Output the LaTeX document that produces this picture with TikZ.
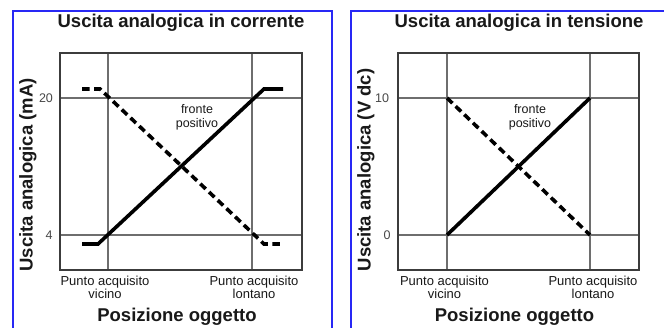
\documentclass[tikz,border=0pt]{standalone}
\usepackage{fontspec}
\setmainfont{Liberation Sans}
\definecolor{panelblue}{RGB}{40,40,245}
\definecolor{gridgray}{RGB}{110,110,110}
\definecolor{ink}{RGB}{25,25,25}
\begin{document}
\begin{tikzpicture}[x=1pt,y=-1pt,
  panel/.style={draw=panelblue,line width=2pt},
  frame/.style={draw=ink!85,line width=2pt},
  gridl/.style={draw=gridgray,line width=1.2pt},
  curve/.style={draw=black,line width=3.6pt,line join=miter},
  dcurve/.style={curve,dash pattern=on 7.5pt off 4.5pt},
  title/.style={font=\fontsize{18.5}{20}\selectfont\bfseries,text=ink,inner sep=0pt},
  ylab/.style={font=\fontsize{18.5}{20}\selectfont\bfseries,text=ink,inner sep=0pt,rotate=90},
  tick/.style={font=\fontsize{12.5}{13}\selectfont,text=ink!80,inner sep=0pt},
  small/.style={font=\fontsize{13}{10.5}\selectfont,text=ink,inner sep=0pt,align=center},
  note/.style={font=\fontsize{12.5}{14}\selectfont,text=ink,inner sep=0pt,align=center}]
\useasboundingbox (0,0) rectangle (664,328);
\fill[white] (0,0) rectangle (664,328);
% panels
\draw[panel] (332,340) -- (332,11) -- (13,11) -- (13,340);
\draw[panel] (351,340) -- (351,11) -- (680,11);
% ---------- left panel ----------
\node[title] (t1) at (181,23) {Uscita analogica in corrente};
\draw[gridl] (108,53) -- (108,270) (252,53) -- (252,270);
\draw[gridl] (60,98) -- (302,98) (60,235) -- (302,235);
\draw[frame] (60,53) rectangle (302,270);
\node[tick] (l20) at (46,98) {20};
\node[tick] (l4) at (49,235) {4};
\node[ylab] (y1) at (28,175) {Uscita analogica (mA)};
\coordinate (s1a) at (82,244); \coordinate (s1b) at (98,244);
\coordinate (s1c) at (264,89); \coordinate (s1d) at (283,89);
\draw[curve] (s1a) -- (s1b) -- (s1c) -- (s1d);
\coordinate (d1a) at (82,89); \coordinate (d1b) at (100,89);
\coordinate (d1c) at (264,244); \coordinate (d1d) at (283,244);
\draw[dcurve] (d1a) -- (d1b) -- (d1c) -- (d1d);
\node[note] (f1) at (197,117) {fronte\\positivo};
\node[small] (n1) at (105,287) {Punto acquisito\\vicino};
\node[small] (r1) at (254,287) {Punto acquisito\\lontano};
\node[title] (x1) at (177,317) {Posizione oggetto};
% ---------- right panel ----------
\node[title] (t2) at (519,23) {Uscita analogica in tensione};
\draw[gridl] (447,53) -- (447,270) (590,53) -- (590,270);
\draw[gridl] (398,98) -- (639,98) (398,235) -- (639,235);
\draw[frame] (398,53) rectangle (639,270);
\node[tick] (l10) at (382,98) {10};
\node[tick] (l0) at (387,235) {0};
\node[ylab] (y2) at (366,170) {Uscita analogica (V dc)};
\coordinate (s2a) at (447,235); \coordinate (s2b) at (590,98);
\draw[curve] (s2a) -- (s2b);
\coordinate (d2a) at (447,98); \coordinate (d2b) at (590,235);
\draw[dcurve] (d2a) -- (d2b);
\node[note] (f2) at (530,117) {fronte\\positivo};
\node[small] (n2) at (444.5,287) {Punto acquisito\\vicino};
\node[small] (r2) at (593,287) {Punto acquisito\\lontano};
\node[title] (x2) at (514.5,317) {Posizione oggetto};
\end{tikzpicture}
\end{document}
